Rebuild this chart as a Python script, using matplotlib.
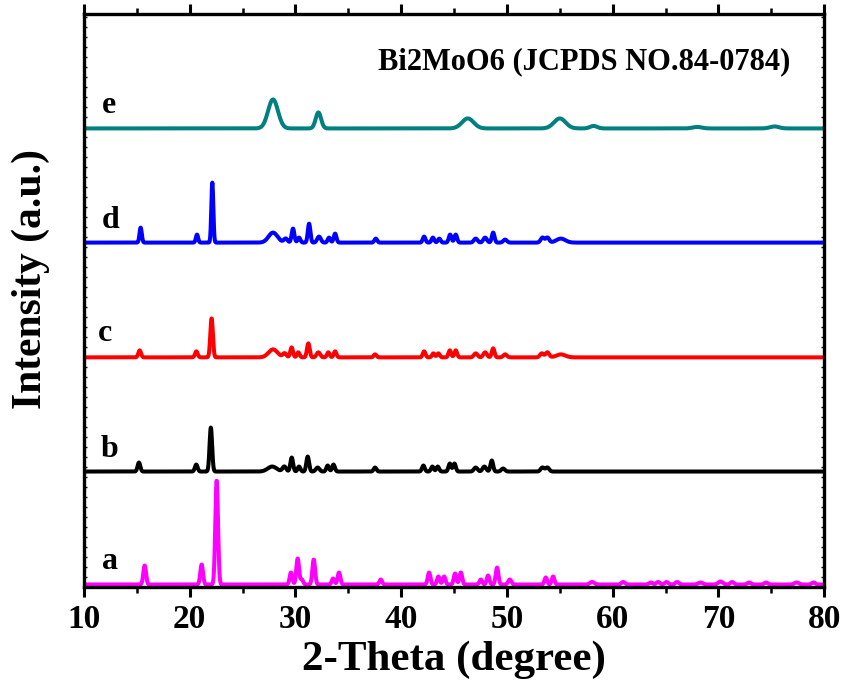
import numpy as np
import matplotlib
matplotlib.use('Agg')
import matplotlib.pyplot as plt
from matplotlib.ticker import MultipleLocator

plt.rcParams['font.family'] = ['Liberation Serif', 'DejaVu Serif']
plt.rcParams['font.weight'] = 'bold'

# peak lists: position (2-theta), height, FWHM (degree)
a_pos = [15.74, 21.13, 22.55, 29.58, 30.21, 30.6, 31.73, 33.56, 34.12, 38.07,
         42.64, 43.52, 44.06, 45.1, 45.64, 47.53, 48.22, 49.07, 50.27, 53.68, 54.37,
         58.06, 61.0, 63.6, 64.3, 65.1, 66.1, 68.3, 70.2, 71.3, 72.9, 74.5, 77.4, 79.0]
a_h = [19, 20, 104, 12, 26, 5, 25, 6, 12, 5,
       12, 8, 8, 11, 12, 5, 9, 17, 5, 7, 8,
       2.5, 2.5, 2, 2.5, 2.5, 2.5, 2, 3, 2.5, 2, 2, 2, 2]
a_w = [0.3, 0.3, 0.3, 0.3, 0.3, 0.3, 0.3, 0.3, 0.3, 0.3,
       0.3, 0.3, 0.3, 0.3, 0.3, 0.3, 0.3, 0.3, 0.35, 0.3, 0.3,
       0.5, 0.4, 0.4, 0.4, 0.4, 0.4, 0.5, 0.5, 0.4, 0.4, 0.4, 0.5, 0.4]

b_pos = [15.2, 20.62, 22.0, 27.8, 28.95, 29.65, 30.34, 31.16, 32.1, 33.05, 33.6, 37.53,
         42.1, 42.95, 43.46, 44.6, 45.04, 47.05, 47.87, 48.57, 49.64, 53.36, 53.83]
b_h = [9, 7, 44, 5, 5, 14, 5, 15, 4, 6, 7, 4,
       6, 5, 5, 8, 8, 4, 5, 11, 3, 4, 4]
b_w = [0.3, 0.3, 0.28, 1.0, 0.4, 0.3, 0.3, 0.3, 0.4, 0.3, 0.3, 0.3,
       0.3, 0.3, 0.3, 0.3, 0.3, 0.4, 0.4, 0.3, 0.4, 0.4, 0.4]

c_pos = [15.27, 20.63, 22.07, 27.88, 28.98, 29.64, 30.27, 31.22, 32.17, 33.11, 33.75, 37.53,
         42.17, 43.05, 43.52, 44.6, 45.16, 47.05, 47.94, 48.7, 49.83, 53.3, 53.83, 55.1]
c_h = [7, 6, 39, 8, 4, 10, 5, 14, 5, 5, 6, 3,
       6, 4, 4, 7, 7, 4, 5, 9, 3, 4, 5, 3]
c_w = [0.3, 0.3, 0.28, 1.0, 0.4, 0.3, 0.3, 0.3, 0.4, 0.3, 0.3, 0.3,
       0.3, 0.3, 0.3, 0.3, 0.3, 0.4, 0.4, 0.3, 0.4, 0.4, 0.4, 1.0]

d_pos = [15.36, 20.69, 22.14, 27.88, 29.08, 29.77, 30.34, 31.29, 32.23, 33.18, 33.75, 37.6,
         42.17, 43.0, 43.6, 44.63, 45.16, 47.05, 47.94, 48.7, 49.83, 53.36, 53.83, 55.1]
d_h = [15, 8, 60, 10, 4, 14, 5, 19, 6, 5, 9, 4,
       6, 5, 4, 8, 8, 4, 5, 10, 3, 5, 5, 4]
d_w = [0.25, 0.25, 0.22, 1.0, 0.4, 0.3, 0.3, 0.28, 0.4, 0.3, 0.3, 0.3,
       0.3, 0.3, 0.3, 0.3, 0.3, 0.4, 0.4, 0.3, 0.4, 0.4, 0.4, 1.0]

e_pos = [27.88, 32.17, 46.3, 55.0, 58.2, 68.0, 75.3]
e_h = [29, 16, 10, 10, 2.5, 1.5, 2]
e_w = [1.1, 0.6, 1.3, 1.3, 0.8, 1.0, 1.0]

# vertical offset of each pattern
offsets = [2.5, 115.5, 229.7, 344.5, 458.7]
names = ['a', 'b', 'c', 'd', 'e']
colors = ['#FF00FF', '#000000', '#FF0000', '#0000FF', '#008080']
label_x = [12.5, 12.4, 12.0, 12.5, 12.4]
label_gap = [16, 15, 16, 15, 15]

two_theta = np.linspace(10, 80, 3501)


def pattern(pos, h, w):
    y = np.zeros_like(two_theta)
    for p, hh, ww in zip(pos, h, w):
        s = ww / 2.355
        y += hh * np.exp(-0.5 * ((two_theta - p) / s) ** 2)
    return y


series = [(a_pos, a_h, a_w), (b_pos, b_h, b_w), (c_pos, c_h, c_w),
          (d_pos, d_h, d_w), (e_pos, e_h, e_w)]

fig = plt.figure(figsize=(8.43, 6.91), dpi=100)
ax = fig.add_axes([0.0996, 0.1505, 0.878, 0.829])

for (pos, h, w), off, col in zip(series, offsets, colors):
    ax.plot(two_theta, pattern(pos, h, w) + off, color=col, lw=2.9)

for n, x, off, gap in zip(names, label_x, offsets, label_gap):
    ax.text(x, off + gap, n, fontsize=23, fontweight='bold', ha='center', va='baseline')

ax.text(57.3, 525, 'Bi2MoO6 (JCPDS NO.84-0784)', fontsize=22, fontweight='bold',
        ha='center', va='center')

ax.set_xlim(10, 80)
ax.set_ylim(0, 573)
ax.xaxis.set_major_locator(MultipleLocator(10))
ax.xaxis.set_minor_locator(MultipleLocator(5))
ax.yaxis.set_minor_locator(MultipleLocator(10))
ax.set_yticks([])
ax.tick_params(axis='x', which='major', direction='out', length=7, width=2.2,
               labelsize=24, pad=5)
ax.tick_params(axis='x', which='minor', direction='out', length=4, width=1.8)
ax.tick_params(axis='y', which='minor', direction='in', length=2, width=1,
               left=True, right=True)
ax.tick_params(axis='x', which='both', top=True)
for lab in ax.get_xticklabels():
    lab.set_fontweight('bold')
for sp in ax.spines.values():
    sp.set_linewidth(2.4)

ax.set_xlabel('2-Theta (degree)', fontsize=31, fontweight='bold', labelpad=4)
ax.set_ylabel('Intensity (a.u.)', fontsize=30, fontweight='bold')
ax.yaxis.set_label_coords(-0.046, 0.5375)

plt.savefig('out.png', dpi=100)
